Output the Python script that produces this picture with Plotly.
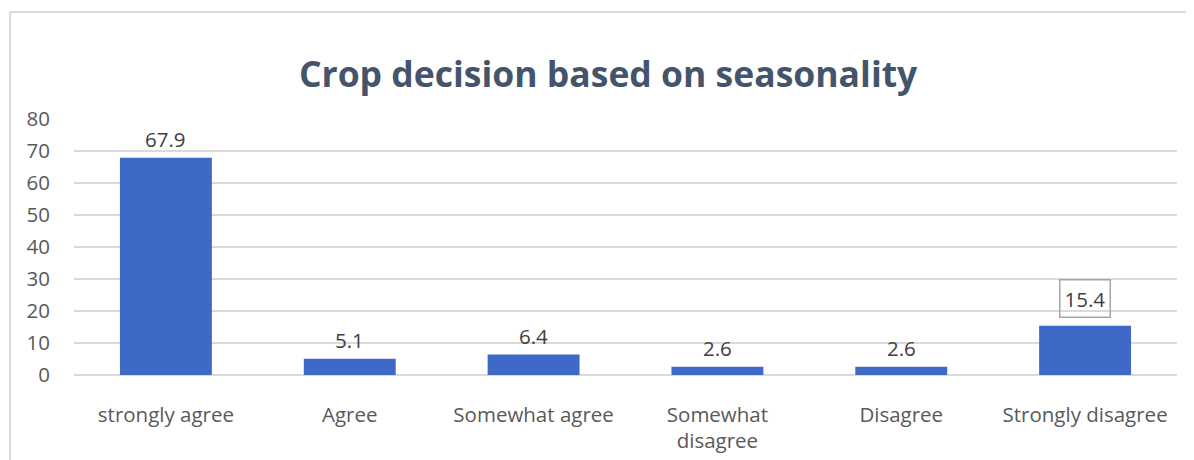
import plotly.graph_objects as go

categories = ["strongly agree", "Agree", "Somewhat agree", "Somewhat<br>disagree", "Disagree", "Strongly disagree"]
values = [67.9, 5.1, 6.4, 2.6, 2.6, 15.4]
labels = ["67.9", "5.1", "6.4", "2.6", "2.6", "15.4"]
boxed = [False, False, False, False, False, True]
y_ticks = [0, 10, 20, 30, 40, 50, 60, 70, 80]

FONT = "Open Sans, Noto Sans, sans-serif"
TS = 20.5
fig = go.Figure()
fig.add_trace(go.Bar(
    x=categories, y=values,
    marker=dict(color="#3f69c7", line=dict(width=0)),
    hoverinfo="skip",
))

for c, v, t, b in zip(categories, values, labels, boxed):
    fig.add_annotation(
        x=c, y=v, text=t, showarrow=False, yanchor="bottom", yshift=8 if b else 5,
        font=dict(family=FONT, size=TS, color="#404040"),
        bordercolor="#a6a6a6" if b else "rgba(0,0,0,0)", borderwidth=1.5 if b else 0,
        borderpad=4 if b else 0,
    )

fig.update_layout(
    width=1186, height=452,
    margin=dict(l=66, r=17, t=111, b=85, autoexpand=False),
    paper_bgcolor="white", plot_bgcolor="white",
    bargap=0.5, showlegend=False,
    title=dict(text="<b>Crop decision based on seasonality</b>", x=0.506, xanchor="center",
               y=0.852, yanchor="middle",
               font=dict(family=FONT, size=35.5, color="#44546a")),
    xaxis=dict(showgrid=False, showline=False, ticks="", zeroline=False, automargin=False,
               tickfont=dict(family=FONT, size=TS, color="#595959"), ticklabelstandoff=25),
    yaxis=dict(range=[0, 80], tickvals=y_ticks, showgrid=True, gridcolor="#dadada", gridwidth=2,
               zeroline=True, zerolinecolor="#dadada", zerolinewidth=2, showline=False,
               automargin=False,
               tickfont=dict(family=FONT, size=TS, color="#595959"), ticklabelstandoff=23),
    shapes=[
        dict(type="line", xref="paper", yref="paper", x0=-0.058, x1=1.1, y0=1.418, y1=1.418,
             line=dict(color="#d9d9d9", width=2)),
        dict(type="line", xref="paper", yref="paper", x0=-0.058, x1=-0.058, y0=1.418, y1=-0.5,
             line=dict(color="#d9d9d9", width=2)),
    ],
)

fig.write_html("out.html")
